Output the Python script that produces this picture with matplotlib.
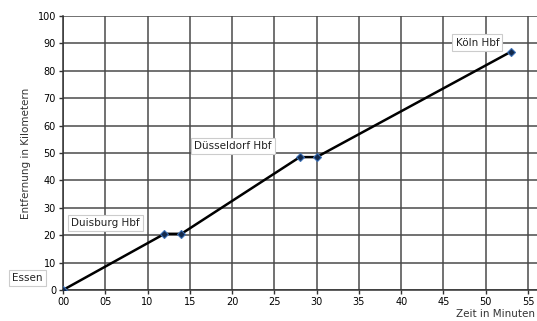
import matplotlib
matplotlib.use("Agg")
import matplotlib.pyplot as plt

# Fahrplan Essen -> Köln
zeit = [0, 12, 14, 28, 30, 53]
entfernung = [0, 20.5, 20.5, 48.5, 48.5, 87]
x_ticks = list(range(0, 56, 5))
y_ticks = list(range(0, 101, 10))

stationen = ["Essen", "Duisburg Hbf", "Düsseldorf Hbf", "Köln Hbf"]
label_pos = [(-4.2, 4.5), (5.0, 24.5), (20.1, 52.5), (49.0, 90.3)]

plt.rcParams['font.family'] = ['DejaVu Sans']

fig = plt.figure(figsize=(5.37, 3.21), dpi=100)
ax = fig.add_axes([63 / 537, 31 / 321, 473.5 / 537, 274 / 321])

ax.plot(zeit, entfernung, color="black", lw=1.8, marker="D", markersize=4,
        markerfacecolor="#13294b", markeredgecolor="#3b6fb5", markeredgewidth=0.8,
        zorder=3)

ax.set_xlim(0, 56)
ax.set_ylim(0, 100)
ax.set_xticks(x_ticks)
ax.set_xticklabels([f"{t:02d}" for t in x_ticks])
ax.set_yticks(y_ticks)
ax.tick_params(labelsize=7, length=3, width=1, color="#333333", pad=2)
ax.grid(True, color="#4a4a4a", lw=1.1)
ax.set_axisbelow(True)
for side in ["top", "right"]:
    ax.spines[side].set_visible(False)
for side in ["left", "bottom"]:
    ax.spines[side].set_color("#333333")
    ax.spines[side].set_linewidth(1.1)

for name, (lx, ly) in zip(stationen, label_pos):
    ax.text(lx, ly, name, fontsize=7.5, ha="center", va="center", color="#222222",
            clip_on=False, zorder=4,
            bbox=dict(boxstyle="square,pad=0.3", facecolor="white",
                      edgecolor="#cccccc", lw=0.8))

ax.set_ylabel("Entfernung in Kilometern", fontsize=7.5, color="#333333", labelpad=5)
# in the reference this label sits right at the lower edge
fig.text(495 / 537, 2 / 321, "Zeit in Minuten", fontsize=7.5, ha="center",
         va="bottom", color="#333333")

fig.savefig("out.png", dpi=100)
